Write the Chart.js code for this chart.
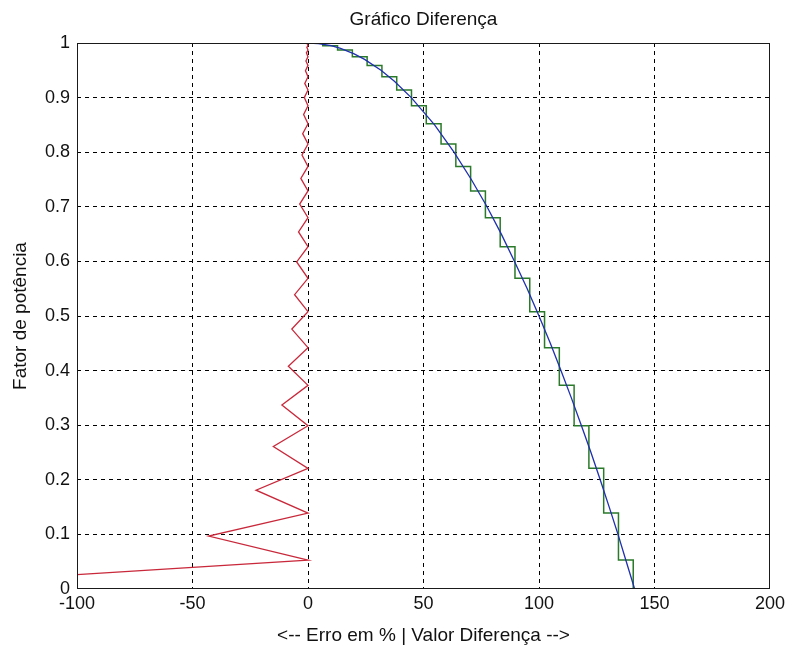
<!DOCTYPE html>
<html>
<head>
<meta charset="utf-8">
<script src="https://cdn.jsdelivr.net/npm/chart.js@4"></script>
<style>
  html, body { margin: 0; padding: 0; background: #fff; }
  canvas { display: block; }
</style>
</head>
<body>
<canvas id="grafico" width="790" height="649"></canvas>
<script>
// curva contínua (azul): valor diferença x fator de potência
const curvaFp = [0, 0.05, 0.1, 0.15, 0.2, 0.25, 0.3, 0.35, 0.4, 0.45, 0.5, 0.55, 0.6, 0.65,
  0.7, 0.75, 0.8, 0.85, 0.9, 0.93, 0.95, 0.97, 0.98, 0.99, 0.995, 0.999, 1];
const curvaValor = [141.4, 137.8, 134.2, 130.4, 126.5, 122.5, 118.3, 114.0, 109.5, 104.9, 100.0, 94.9, 89.4, 83.7,
  77.5, 70.7, 63.2, 54.8, 44.7, 37.4, 31.6, 24.5, 20.0, 14.1, 10.0, 4.5, 0];

// degraus (verde): nível de cada degrau e fator de potência onde ele muda
const degrauValor = [140.8, 134.4, 128, 121.6, 115.2, 108.8, 102.4, 96, 89.6, 83.2, 76.8, 70.4,
  64, 57.6, 51.2, 44.8, 38.4, 32, 25.6, 19.2, 12.8, 6.4, 0];
const degrauTroca = [0.053, 0.139, 0.221, 0.299, 0.373, 0.442, 0.508, 0.569, 0.627, 0.680, 0.729,
  0.774, 0.815, 0.852, 0.885, 0.914, 0.938, 0.959, 0.975, 0.987, 0.995, 0.9995];

// erro em % (vermelho)
const erroFp = [0, 0.053, 0.097, 0.139, 0.181, 0.221, 0.261, 0.299, 0.337, 0.373, 0.408, 0.442, 0.476,
  0.508, 0.539, 0.569, 0.599, 0.627, 0.654, 0.680, 0.705, 0.729, 0.752, 0.774, 0.795, 0.815, 0.834,
  0.852, 0.869, 0.885, 0.900, 0.914, 0.926, 0.938, 0.949, 0.959, 0.967, 0.975, 0.982, 0.987, 0.992,
  0.995, 0.998, 1.0];
const erroPct = [-200, 0, -43, 0, -22.5, 0, -15, 0, -11.3, 0, -8.5, 0, -7,
  0, -5.8, 0, -4.9, 0, -4.1, 0, -3.6, 0, -3.1, 0, -2.6, 0, -2.3,
  0, -1.9, 0, -1.6, 0, -1.4, 0, -1.1, 0, -0.9, 0, -0.7, 0, -0.5,
  0, -0.3, 0];

const fonte = '"Liberation Sans", Arial, sans-serif';

const pontosCurva = curvaFp.map((y, i) => ({ x: curvaValor[i], y: y }));
const pontosErro = erroFp.map((y, i) => ({ x: erroPct[i], y: y }));

// escada: sobe na vertical em cada nível e anda na horizontal na troca
const pontosDegrau = [];
degrauValor.forEach((v, i) => {
  const de = i === 0 ? 0 : degrauTroca[i - 1];
  const ate = i < degrauTroca.length ? degrauTroca[i] : 1;
  pontosDegrau.push({ x: v, y: de });
  pontosDegrau.push({ x: v, y: ate });
});

// grade só nas linhas internas, as bordas ficam com a moldura
const corGrade = (c) => (c.index === 0 || c.index === c.scale.ticks.length - 1) ? 'rgba(0,0,0,0)' : '#000';

// moldura dos eixos e textos dos títulos
const moldura = {
  id: 'moldura',
  afterDatasetsDraw(chart) {
    const { ctx, chartArea: a } = chart;
    ctx.save();
    ctx.strokeStyle = '#1a1a1a';
    ctx.lineWidth = 1;
    ctx.strokeRect(a.left + 0.5, a.top + 0.5, a.right - a.left - 1, a.bottom - a.top - 1);
    ctx.restore();
  },
  afterDraw(chart) {
    const { ctx, chartArea: a } = chart;
    const cx = (a.left + a.right) / 2;
    const cy = (a.top + a.bottom) / 2;
    ctx.save();
    ctx.fillStyle = '#111';
    ctx.font = '19px ' + fonte;
    ctx.textAlign = 'center';
    ctx.textBaseline = 'middle';
    ctx.fillText('Gráfico Diferença', cx, 20);
    ctx.fillText('<-- Erro em % | Valor Diferença -->', cx, 636);
    ctx.translate(21, cy);
    ctx.rotate(-Math.PI / 2);
    ctx.fillText('Fator de potência', 0, 0);
    ctx.restore();
  }
};

new Chart(document.getElementById('grafico'), {
  type: 'scatter',
  data: {
    datasets: [
      {
        label: 'Valor',
        data: pontosCurva,
        showLine: true,
        borderColor: '#1f2fb0',
        borderWidth: 1.3,
        pointRadius: 0
      },
      {
        label: 'Degraus',
        data: pontosDegrau,
        showLine: true,
        borderColor: '#2a7a2a',
        borderWidth: 1.5,
        pointRadius: 0
      },
      {
        label: 'Erro',
        data: pontosErro,
        showLine: true,
        borderColor: '#c8283a',
        borderWidth: 1.3,
        pointRadius: 0
      }
    ]
  },
  options: {
    responsive: false,
    animation: false,
    devicePixelRatio: 1,
    layout: {
      padding: { top: 43, right: 20, left: 0, bottom: 0 }
    },
    plugins: {
      legend: { display: false },
      tooltip: { enabled: false }
    },
    scales: {
      x: {
        type: 'linear',
        min: -100,
        max: 200,
        afterFit(scale) { scale.height = 60; },
        ticks: {
          stepSize: 50,
          padding: 4,
          color: '#111',
          font: { family: fonte, size: 18 }
        },
        grid: { color: corGrade, lineWidth: 1, drawTicks: false },
        border: { display: false, dash: [4, 4] }
      },
      y: {
        type: 'linear',
        min: 0,
        max: 1,
        afterFit(scale) { scale.width = 77; },
        ticks: {
          stepSize: 0.1,
          padding: 7,
          color: '#111',
          font: { family: fonte, size: 18 },
          // 0 e 1 sem casa decimal
          callback: (v) => String(Number(v.toFixed(1)))
        },
        grid: { color: corGrade, lineWidth: 1, drawTicks: false },
        border: { display: false, dash: [4, 4] }
      }
    }
  },
  plugins: [moldura]
});
</script>
</body>
</html>
